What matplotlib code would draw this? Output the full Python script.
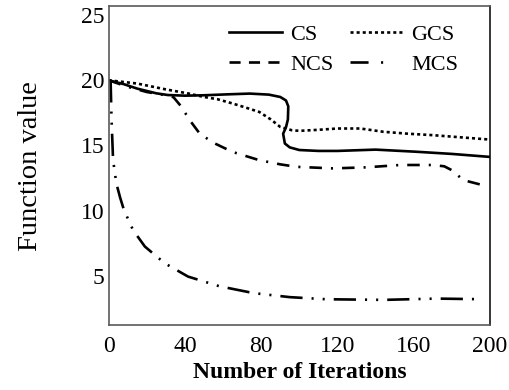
import matplotlib
matplotlib.use('Agg')
import matplotlib.pyplot as plt
from matplotlib.lines import Line2D

plt.rcParams['font.family'] = ['Liberation Serif', 'DejaVu Serif']
plt.rcParams['lines.scale_dashes'] = False

# curves
cs_x = [0, 8, 15, 25, 31, 40, 50, 62, 74, 84, 90, 93, 94.2, 94, 93, 91.5, 92.4, 95, 100, 110, 120, 140, 161, 180, 200]
cs_y = [20, 19.7, 19.36, 19.0, 18.87, 18.82, 18.85, 18.92, 18.98, 18.9, 18.72, 18.45, 18.0, 17.0, 16.4, 15.9,
        15.15, 14.85, 14.65, 14.58, 14.58, 14.68, 14.52, 14.35, 14.12]

gcs_x = [0, 15, 30, 42, 50, 57, 65, 72, 79, 85, 90, 96, 100, 110, 120, 132, 144, 157, 170, 185, 200]
gcs_y = [20, 19.75, 19.3, 18.98, 18.72, 18.55, 18.22, 17.9, 17.57, 17.0, 16.42, 16.17, 16.12, 16.2, 16.3,
         16.3, 16.05, 15.9, 15.79, 15.62, 15.45]

ncs_x = [0, 10, 20, 30, 34, 38, 42.5, 47.8, 55, 65, 79, 90, 98.5, 117.6, 135, 152.8, 170, 176, 180, 186, 195]
ncs_y = [20, 19.5, 19.1, 18.85, 18.7, 18.0, 16.94, 15.9, 15.2, 14.5, 13.87, 13.55, 13.36, 13.24, 13.32,
         13.5, 13.5, 13.4, 13.1, 12.34, 12.0]

mcs_x = [1, 1.5, 2.3, 4, 6, 8, 12.8, 19, 29.4, 41.6, 58, 76, 95, 114, 144, 172, 196]
mcs_y = [20, 17.0, 13.9, 12.1, 11.0, 10.05, 8.5, 7.24, 5.96, 4.94, 4.2, 3.67, 3.36, 3.2, 3.15, 3.25, 3.2]

labels = ['CS', 'NCS', 'GCS', 'MCS']
xticks = [0, 40, 80, 120, 160, 200]
yticks = [5, 10, 15, 20, 25]

fig = plt.figure(figsize=(5.1, 3.9), dpi=100)
ax = fig.add_axes([0.2131, 0.1659, 0.7477, 0.8187])

lw = 1.9
ax.plot(cs_x, cs_y, color='black', lw=lw, linestyle='-')
ax.plot(gcs_x, gcs_y, color='black', lw=lw, linestyle=(0, (2.2, 2.2)), dash_capstyle='butt')
ax.plot(ncs_x, ncs_y, color='black', lw=lw, linestyle=(0, (9, 6.5, 1.5, 6.5)))
ax.plot(mcs_x, mcs_y, color='black', lw=lw, linestyle=(0, (16, 6.5, 1.5, 6.5, 1.5, 6.5)))

ax.set_xlim(0, 200)
ax.set_ylim(1.2, 25.7)
ax.set_xticks(xticks)
ax.set_yticks(yticks)
ax.tick_params(axis='both', length=0, labelsize=17)
ax.tick_params(axis='x', pad=8)
ax.tick_params(axis='y', pad=3)

for s in ['left', 'bottom', 'top']:
    ax.spines[s].set_color('#5a5a5a')
    ax.spines[s].set_linewidth(1.2)
ax.spines['right'].set_color('black')
ax.spines['right'].set_linewidth(1.1)

ax.set_xlabel('Number of Iterations', fontsize=17, fontweight='bold', labelpad=3)
ax.set_ylabel('Function value', fontsize=20.5, labelpad=27)

handles = [
    Line2D([], [], color='black', lw=lw, linestyle='-'),
    Line2D([], [], color='black', lw=lw, linestyle=(0, (8, 6))),
    Line2D([], [], color='black', lw=lw, linestyle=(0, (2.2, 2.2)), dash_capstyle='butt'),
    Line2D([], [], color='black', lw=lw, linestyle=(0, (13, 9, 1.5, 30))),
]
ax.legend(handles, labels, ncol=2, loc='upper left', bbox_to_anchor=(229 / 510, 1 - 24 / 390),
          bbox_transform=fig.transFigure, frameon=False, fontsize=16, handlelength=2.4,
          handletextpad=0.35, columnspacing=0.75, labelspacing=0.45, borderpad=0, borderaxespad=0)

fig.savefig('out.png', dpi=100)
